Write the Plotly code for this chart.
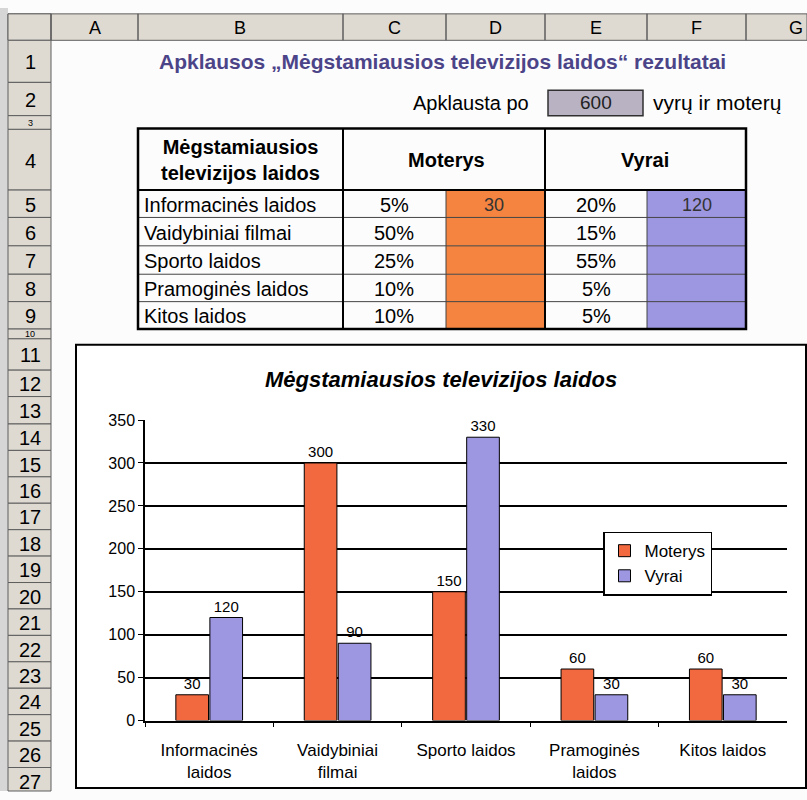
import plotly.graph_objects as go

# ---------------- data ----------------
categories = ["Informacinės<br>laidos", "Vaidybiniai<br>filmai", "Sporto laidos", "Pramoginės<br>laidos", "Kitos laidos"]
moterys = [30, 300, 150, 60, 60]
vyrai = [120, 90, 330, 30, 30]

table_labels = ["Informacinės laidos", "Vaidybiniai filmai", "Sporto laidos", "Pramoginės laidos", "Kitos laidos"]
moterys_pct = ["5%", "50%", "25%", "10%", "10%"]
vyrai_pct = ["20%", "15%", "55%", "5%", "5%"]
apklausta = 600

col_letters = ["A", "B", "C", "D", "E", "F", "G"]
row_numbers = [str(i) for i in range(1, 28)]

# ---------------- geometry helpers ----------------
W, H = 807, 800


def px(x):
    return x / W


def py(y):
    return 1 - y / H


ORANGE = "#f2693f"
PURPLE = "#9d96e0"
HEAD_FILL = "#dedad2"
HEAD_LINE = "#5e5e5e"
FONT = "Liberation Sans, Arial, sans-serif"

col_edges = [51, 138, 343, 446, 545, 647, 746, 860]
row_edges = [33, 76, 110, 124, 186, 214, 243, 272, 300, 328, 338, 370, 397, 425, 452,
             479, 506, 533, 560, 587, 614, 641, 668, 695, 722, 749, 776, 803]

shapes = []
annotations = []


def rect(x0, y0, x1, y1, fill=None, line="black", lw=1, layer="below"):
    shapes.append(dict(type="rect", xref="paper", yref="paper",
                       x0=px(x0), x1=px(x1), y0=py(y1), y1=py(y0),
                       fillcolor=fill if fill else "rgba(0,0,0,0)",
                       line=dict(color=line, width=lw), layer=layer))


def hline(x0, x1, y, color="black", lw=1):
    shapes.append(dict(type="line", xref="paper", yref="paper",
                       x0=px(x0), x1=px(x1), y0=py(y), y1=py(y),
                       line=dict(color=color, width=lw), layer="below"))


def vline(x, y0, y1, color="black", lw=1):
    shapes.append(dict(type="line", xref="paper", yref="paper",
                       x0=px(x), x1=px(x), y0=py(y0), y1=py(y1),
                       line=dict(color=color, width=lw), layer="below"))


def text(x, y, s, size=15, color="black", xanchor="center", bold=False, italic=False):
    if bold:
        s = "<b>" + s + "</b>"
    if italic:
        s = "<i>" + s + "</i>"
    annotations.append(dict(x=px(x), y=py(y), xref="paper", yref="paper", text=s,
                            showarrow=False, xanchor=xanchor, yanchor="middle",
                            font=dict(family=FONT, size=size, color=color)))


# left strip
rect(0, 0, 8, 800, fill="#d6d6d6", line="#d6d6d6", lw=0)
# column header bar
rect(8, 6, 807, 33, fill=HEAD_FILL, line=HEAD_LINE, lw=1)
rect(8, 6, 51, 33, fill=HEAD_FILL, line=HEAD_LINE, lw=1)
for i, letter in enumerate(col_letters):
    x0, x1 = col_edges[i], col_edges[i + 1]
    vline(x0, 6, 33, color=HEAD_LINE, lw=1.5)
    cx = (x0 + x1) / 2 if letter != "G" else 796
    text(cx, 20, letter, size=18)

# row header column
for i, rn in enumerate(row_numbers):
    y0, y1 = row_edges[i], row_edges[i + 1]
    rect(8, y0, 51, min(y1, 800), fill=HEAD_FILL, line=HEAD_LINE, lw=1)
    if y1 - y0 > 20:
        text(30, (y0 + y1) / 2 + 1, rn, size=20)
    else:
        text(30, (y0 + y1) / 2, rn, size=9)

# ---- title rows ----
text(442, 55, "Apklausos „Mėgstamiausios televizijos laidos“ rezultatai", size=21,
     color="#4c4488", bold=True)
text(531, 97, "Apklausta po", size=20, xanchor="right")
rect(548, 84, 643, 110, fill="#b8b2c2", line="#303030", lw=1.5)
text(596, 97, str(apklausta), size=19, color="#222222")
text(651, 97, "vyrų ir moterų", size=21, xanchor="left")

# ---- table ----
T_L, T_R, T_T, T_HB = 138, 746, 123, 186
row_y = [186, 214, 243, 272, 300, 328]
for i in range(5):
    y0, y1 = row_y[i], row_y[i + 1]
    rect(446, y0, 545, y1, fill="#f4843f", line="#f4843f", lw=0)
    rect(647, y0, 746, y1, fill=PURPLE, line=PURPLE, lw=0)
for y in row_y[1:-1]:
    hline(T_L, T_R, y, color="#444444", lw=1)
for x in (446, 647):
    vline(x, T_HB, 328, color="#444444", lw=1)
vline(343, T_T, 328, lw=2)
vline(545, T_T, 328, lw=2)
hline(T_L, T_R, T_HB, lw=2)
rect(T_L, T_T, T_R, 328, line="black", lw=2.5)

text(240, 155, "Mėgstamiausios<br>televizijos laidos", size=20, bold=True)
text(446, 155, "Moterys", size=20, bold=True)
text(645, 155, "Vyrai", size=20, bold=True)
for i in range(5):
    cy = (row_y[i] + row_y[i + 1]) / 2 + 1
    text(142, cy, table_labels[i], size=20, xanchor="left")
    text(394, cy, moterys_pct[i], size=20)
    text(596, cy, vyrai_pct[i], size=20)
text(494, (row_y[0] + row_y[1]) / 2 + 1, str(moterys[0]), size=18, color="#333333")
text(697, (row_y[0] + row_y[1]) / 2 + 1, str(vyrai[0]), size=18, color="#333333")

# ---- chart object box ----
rect(76, 344, 806, 797, fill="white", line="black", lw=2)
text(441, 380, "Mėgstamiausios televizijos laidos", size=22, bold=True, italic=True)

# ---------------- figure ----------------
fig = go.Figure()
fig.add_trace(go.Bar(name="Moterys", x=categories, y=moterys, marker=dict(color=ORANGE, line=dict(color="black", width=1)),
                     text=[str(v) for v in moterys], textposition="outside",
                     textfont=dict(family=FONT, size=15, color="black"), cliponaxis=False))
fig.add_trace(go.Bar(name="Vyrai", x=categories, y=vyrai, marker=dict(color=PURPLE, line=dict(color="black", width=1)),
                     text=[str(v) for v in vyrai], textposition="outside",
                     textfont=dict(family=FONT, size=15, color="black"), cliponaxis=False))

fig.update_layout(
    width=W, height=H,
    margin=dict(l=0, r=0, t=0, b=0),
    paper_bgcolor="#fcfcfc",
    plot_bgcolor="#b7b3bf",
    barmode="group", bargap=0.47, bargroupgap=0.04,
    font=dict(family=FONT, size=14, color="black"),
    shapes=shapes,
    annotations=annotations,
    showlegend=True,
    legend=dict(x=px(603), y=py(535), xanchor="left", yanchor="top",
                bgcolor="white", bordercolor="black", borderwidth=1.5,
                font=dict(family=FONT, size=17, color="black"),
                itemwidth=30, tracegroupgap=4),
    xaxis=dict(domain=[px(145), px(787)], showline=True, linecolor="black", linewidth=1.5,
               ticks="outside", tickson="boundaries", ticklen=5, tickcolor="black",
               ticklabelstandoff=13,
               tickfont=dict(family=FONT, size=17), showgrid=False),
    yaxis=dict(domain=[py(728), py(421)], range=[0, 350], dtick=50, showline=True,
               linecolor="black", linewidth=1.5, ticks="outside", ticklen=5, tickcolor="black",
               gridcolor="black", gridwidth=1.5, zeroline=False,
               tickfont=dict(family=FONT, size=16)),
)

fig.write_html("out.html", config={"displayModeBar": False},
               post_script="document.body.style.margin='0px';document.body.style.overflow='hidden';")
